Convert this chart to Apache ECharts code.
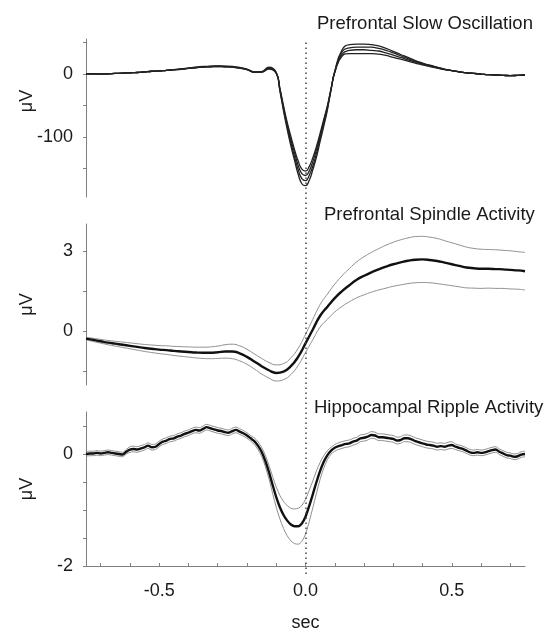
<!DOCTYPE html>
<html>
<head>
<meta charset="utf-8">
<title>Slow oscillation, spindle and ripple averages</title>
<script src="https://cdn.jsdelivr.net/npm/echarts@6/dist/echarts.min.js"></script>
<style>
html,body{margin:0;padding:0;background:#fff;}
#main{width:552px;height:633px;}
</style>
</head>
<body>
<div id="main"></div>
<script>
// time base of the slow oscillation traces (sec), denser around the trough
var soTime = [-0.75,-0.725,-0.7,-0.675,-0.65,-0.625,-0.6,-0.575,-0.55,-0.525,-0.5,-0.475,-0.45,-0.425,-0.4,-0.375,-0.35,-0.325,-0.3,-0.275,-0.25,-0.225,-0.2,-0.175,-0.15,-0.125,
  -0.1,-0.0875,-0.075,-0.0625,-0.05,-0.0375,-0.025,-0.0125,0,0.0125,0.025,0.0375,0.05,0.0625,0.075,0.0875,0.1,
  0.125,0.15,0.175,0.2,0.225,0.25,0.275,0.3,0.325,0.35,0.375,0.4,0.425,0.45,0.475,0.5,0.525,0.55,0.575,0.6,0.625,0.65,0.675,0.7,0.725,0.75];

// prefrontal slow oscillation, four traces (uV)
var soLine1 = [0,0,-0.5,0,0.5,1,1.5,2,3,4,4.5,5.5,6,7,8.5,9.5,10.5,11,11.5,11,10.5,9,6.5,
  2.5,2.5,7.5,1,
  -23,-51,-77,-99,-120,-138,-151,-154,-147,-133,-115,-94,-72,-50,-23,2,
  28,32,32,32,32,31,29,26,23,20,17,14,11.5,9,6.5,
  5,3,1.5,0.5,-0.5,-1.5,-2,-2.5,-3,-2.5,-2];
var soLine2 = [0,0,-0.5,0,0.5,1,1.5,2,3,4,4.5,5.5,6,7,8.5,9.5,10.5,11,11.5,11,10.5,9,6.5,
  2.5,2.5,8.5,1,
  -24,-54,-80,-104,-125,-145,-158,-161,-154,-139,-120,-98,-75,-52,-24,3,
  31,37,38,38,37,36,33,29.5,26,22,18.5,15,12,9.5,7,
  5,3,1.5,0.5,-0.5,-1.5,-2,-2.5,-3,-2.5,-2];
var soLine3 = [0,0,-0.5,0,0.5,1,1.5,2,3,4,4.5,5.5,6.5,7.5,9,10,11,11.5,12,11.5,11,9.5,7,
  2.5,3,9.5,1.5,
  -26,-56,-84,-109,-131,-152,-166,-169,-161,-146,-126,-102,-79,-54,-24,3,
  35,41,42,42,42,40,37,33,28.5,24,20,16,13,10,7,
  5,3,1.5,0.5,-0.5,-1.5,-2,-2.5,-3,-2.5,-2];
var soLine4 = [0,0,-0.5,0,0.5,1,1.5,2,3,4,4.5,5.5,6.5,7.5,9,10.5,11.5,12,12.5,12,11.5,10,7.5,
  3,3.5,10.5,2,
  -27,-59,-88,-114,-137,-159,-174,-177,-169,-152,-132,-107,-83,-57,-25,4,
  38,46,47,47,46,44,40,35.5,30.5,26,21,17,13.5,10.5,7.5,
  5,3,1.5,0.5,-0.5,-1.5,-2,-2.5,-3,-2.5,-2];

// prefrontal spindle activity (uV), mean and the two band edges
var spTime = [-0.75,-0.725,-0.7,-0.675,-0.65,-0.625,-0.6,-0.575,-0.55,-0.525,-0.5,-0.475,-0.45,-0.425,-0.4,-0.375,-0.35,-0.325,-0.3,-0.275,-0.25,-0.225,-0.2,-0.175,-0.15,-0.125,-0.1,-0.075,-0.05,-0.025,
  0,0.025,0.05,0.075,0.1,0.125,0.15,0.175,0.2,0.225,0.25,0.275,0.3,0.325,0.35,0.375,0.4,0.425,0.45,0.475,0.5,0.525,0.55,0.575,0.6,0.625,0.65,0.675,0.7,0.725,0.75];
var spMean = [-0.27,-0.32,-0.37,-0.42,-0.46,-0.5,-0.54,-0.58,-0.62,-0.65,-0.68,-0.7,-0.73,-0.75,-0.77,-0.79,-0.8,-0.8,-0.78,-0.75,-0.75,-0.82,-0.95,-1.12,-1.3,-1.45,-1.55,-1.5,-1.3,-0.95,
  -0.45,0.07,0.58,0.92,1.24,1.5,1.72,1.92,2.07,2.2,2.31,2.41,2.5,2.57,2.63,2.67,2.68,2.66,2.62,2.56,2.5,2.44,2.38,2.35,2.33,2.33,2.32,2.31,2.29,2.27,2.24];
var spUpper = [-0.22,-0.26,-0.3,-0.34,-0.37,-0.4,-0.43,-0.46,-0.49,-0.51,-0.53,-0.54,-0.56,-0.57,-0.58,-0.59,-0.59,-0.58,-0.55,-0.5,-0.48,-0.54,-0.67,-0.84,-1.01,-1.16,-1.25,-1.2,-0.99,-0.63,
  -0.11,0.45,1.0,1.39,1.76,2.07,2.34,2.59,2.78,2.94,3.08,3.21,3.32,3.41,3.48,3.53,3.54,3.51,3.46,3.38,3.3,3.22,3.14,3.09,3.06,3.05,3.04,3.02,3.0,2.97,2.94];
var spLower = [-0.32,-0.38,-0.44,-0.5,-0.55,-0.6,-0.65,-0.7,-0.75,-0.79,-0.83,-0.86,-0.9,-0.93,-0.96,-0.99,-1.01,-1.02,-1.01,-1.0,-1.02,-1.1,-1.23,-1.4,-1.59,-1.74,-1.85,-1.8,-1.61,-1.27,
  -0.79,-0.31,0.16,0.45,0.72,0.93,1.1,1.25,1.36,1.46,1.54,1.61,1.68,1.73,1.78,1.81,1.82,1.81,1.78,1.74,1.7,1.66,1.62,1.61,1.6,1.61,1.6,1.6,1.58,1.57,1.54];

// hippocampal ripple activity (uV)
var rpTime = [-0.75,-0.7375,-0.725,-0.7125,-0.7,-0.6875,-0.675,-0.6625,-0.65,-0.6375,-0.625,-0.6125,-0.6,-0.5875,-0.575,-0.5625,-0.55,-0.5375,-0.525,-0.5125,
  -0.5,-0.4875,-0.475,-0.4625,-0.45,-0.4375,-0.425,-0.4125,-0.4,-0.3875,-0.375,-0.3625,-0.35,-0.3375,-0.325,-0.3125,-0.3,-0.2875,-0.275,-0.2625,
  -0.25,-0.2375,-0.225,-0.2125,-0.2,-0.1875,-0.175,-0.1625,-0.15,-0.1375,-0.125,-0.1125,-0.1,-0.0875,-0.075,-0.0625,-0.05,-0.0375,-0.025,-0.0125,
  0,0.0125,0.025,0.0375,0.05,0.0625,0.075,0.0875,0.1,0.1125,0.125,0.1375,0.15,0.1625,0.175,0.1875,0.2,0.2125,0.225,0.2375,
  0.25,0.2625,0.275,0.2875,0.3,0.3125,0.325,0.3375,0.35,0.3625,0.375,0.3875,0.4,0.4125,0.425,0.4375,0.45,0.4625,0.475,0.4875,
  0.5,0.5125,0.525,0.5375,0.55,0.5625,0.575,0.5875,0.6,0.6125,0.625,0.6375,0.65,0.6625,0.675,0.6875,0.7,0.7125,0.725,0.7375,0.75];
var rpMean = [0,0.01,0.01,0.02,0.01,0.02,0.03,0.02,0.01,0,-0.01,0.04,0.08,0.09,0.08,0.1,0.12,0.15,0.12,0.13,
  0.18,0.22,0.24,0.27,0.28,0.31,0.33,0.36,0.38,0.41,0.43,0.42,0.45,0.48,0.46,0.44,0.42,0.41,0.39,0.38,
  0.41,0.43,0.4,0.37,0.33,0.28,0.23,0.15,0.04,-0.12,-0.32,-0.55,-0.77,-0.95,-1.09,-1.19,-1.26,-1.29,-1.29,-1.24,
  -1.12,-0.93,-0.72,-0.5,-0.3,-0.14,-0.02,0.06,0.11,0.14,0.16,0.18,0.19,0.22,0.24,0.28,0.29,0.31,0.34,0.33,
  0.3,0.3,0.29,0.28,0.27,0.24,0.25,0.28,0.28,0.26,0.23,0.21,0.19,0.17,0.16,0.15,0.13,0.14,0.13,0.15,
  0.16,0.13,0.11,0.09,0.06,0.03,0.02,0.03,0.02,0.03,0.05,0.07,0.08,0.04,0.01,-0.02,-0.03,-0.05,-0.04,-0.01,0];
var rpUpper = [0.04,0.05,0.05,0.06,0.05,0.06,0.07,0.06,0.05,0.04,0.03,0.08,0.13,0.14,0.13,0.15,0.17,0.2,0.17,0.18,
  0.23,0.27,0.29,0.32,0.33,0.36,0.38,0.41,0.43,0.46,0.48,0.47,0.5,0.53,0.51,0.49,0.47,0.46,0.44,0.43,
  0.46,0.48,0.45,0.42,0.38,0.33,0.29,0.22,0.12,-0.02,-0.2,-0.4,-0.59,-0.74,-0.85,-0.92,-0.97,-0.98,-0.97,-0.92,
  -0.81,-0.65,-0.48,-0.3,-0.15,-0.03,0.06,0.12,0.17,0.2,0.22,0.24,0.25,0.28,0.3,0.34,0.35,0.37,0.4,0.39,
  0.36,0.36,0.35,0.34,0.33,0.3,0.31,0.34,0.34,0.32,0.29,0.27,0.25,0.23,0.22,0.21,0.19,0.2,0.19,0.21,
  0.22,0.18,0.16,0.14,0.11,0.08,0.07,0.08,0.07,0.08,0.1,0.12,0.13,0.09,0.06,0.03,0.02,0,0.01,0.04,0.05];
var rpLower = [-0.04,-0.03,-0.03,-0.02,-0.03,-0.02,-0.01,-0.02,-0.03,-0.04,-0.05,0,0.03,0.04,0.03,0.05,0.07,0.1,0.07,0.08,
  0.13,0.17,0.19,0.22,0.23,0.26,0.28,0.31,0.33,0.36,0.38,0.37,0.4,0.43,0.41,0.39,0.37,0.36,0.34,0.33,
  0.36,0.38,0.35,0.32,0.28,0.23,0.17,0.08,-0.04,-0.22,-0.44,-0.7,-0.95,-1.16,-1.33,-1.46,-1.55,-1.6,-1.61,-1.56,
  -1.43,-1.21,-0.96,-0.7,-0.45,-0.25,-0.1,0,0.05,0.08,0.1,0.12,0.13,0.16,0.18,0.22,0.23,0.25,0.28,0.27,
  0.24,0.24,0.23,0.22,0.21,0.18,0.19,0.22,0.22,0.2,0.17,0.15,0.13,0.11,0.1,0.09,0.07,0.08,0.07,0.09,
  0.1,0.08,0.06,0.04,0.01,-0.02,-0.03,-0.02,-0.03,-0.02,0,0.02,0.03,-0.01,-0.04,-0.07,-0.08,-0.1,-0.09,-0.06,-0.05];

// ticks and labels
var xTicks = [-0.7,-0.6,-0.5,-0.4,-0.3,-0.2,-0.1,0,0.1,0.2,0.3,0.4,0.5,0.6,0.7];
var xLabels = [-0.5,0,0.5];
var soTicks = [-150,-100,-50,0,50], soLabels = [-100,0];
var spTicks = [-1.5,0,1.5,3], spLabels = [0,3];
var rpTicks = [-2,-1.5,-1,-0.5,0,0.5], rpLabels = [-2,0];
var panelTitles = ['Prefrontal Slow Oscillation','Prefrontal Spindle Activity','Hippocampal Ripple Activity'];

var chart = echarts.init(document.getElementById('main'), null, {renderer: 'canvas'})
  ,FONT = 'Liberation Sans, Arial, sans-serif'
  ,AXIS_COLOR = '#808080'
  ,TEXT_COLOR = '#1a1a1a'
  ,LEFT = 86, WIDTH = 439;

function pairs(t, v){
  return t.map(function(x, i){ return [x, v[i]]; });
}

function line(grid, t, v, color, width, smooth){
  return {
    type: 'line', xAxisIndex: grid, yAxisIndex: grid,
    data: pairs(t, v), showSymbol: false, smooth: smooth,
    lineStyle: {color: color, width: width}, silent: true
  };
}

function yAxis(grid, min, max, ticks, labels, name){
  return {
    type: 'value', gridIndex: grid, min: min, max: max,
    name: name, nameLocation: 'middle', nameRotate: 90, nameGap: 50, nameMoveOverlap: false,
    nameTextStyle: {fontSize: 18, color: TEXT_COLOR, fontFamily: FONT},
    axisLine: {show: true, onZero: false, lineStyle: {color: AXIS_COLOR}},
    axisTick: {show: true, length: 3, customValues: ticks, lineStyle: {color: AXIS_COLOR}},
    axisLabel: {customValues: labels, fontSize: 18, color: TEXT_COLOR, fontFamily: FONT, margin: 13},
    splitLine: {show: false}
  };
}

function hiddenX(grid){
  return {type: 'value', gridIndex: grid, min: -0.75, max: 0.75, show: false};
}

var titles = panelTitles.map(function(txt, i){
  return {
    text: txt, left: [317, 324, 314][i], top: [14, 205, 398][i], padding: 0,
    textStyle: {fontSize: 18.5, fontWeight: 'normal', color: TEXT_COLOR, fontFamily: FONT}
  };
});

var option = {
  backgroundColor: '#fff',
  animation: false,
  title: titles,
  //top panel unit label sits between the 0 and -100 labels
  graphic: [{
    type: 'text', x: 27, y: 101, rotation: Math.PI / 2, silent: true,
    style: {text: 'μV', fontSize: 18, fontFamily: FONT, fill: TEXT_COLOR, align: 'center', verticalAlign: 'middle'}
  }],
  grid: [
    {left: LEFT, width: WIDTH, top: 39, height: 158},
    {left: LEFT, width: WIDTH, top: 224, height: 161},
    {left: LEFT, width: WIDTH, top: 412, height: 162},
    {left: LEFT, width: WIDTH, top: 40, height: 534}
  ],
  xAxis: [
    hiddenX(0),
    hiddenX(1),
    {
      type: 'value', gridIndex: 2, min: -0.75, max: 0.75,
      name: 'sec', nameLocation: 'middle', nameGap: 48,
      nameTextStyle: {fontSize: 18, color: TEXT_COLOR, fontFamily: FONT},
      axisLine: {show: true, onZero: false, lineStyle: {color: AXIS_COLOR}},
      axisTick: {show: true, inside: true, length: 3, customValues: xTicks, lineStyle: {color: AXIS_COLOR}},
      axisLabel: {customValues: xLabels, fontSize: 18, color: TEXT_COLOR, fontFamily: FONT, margin: 16,
        formatter: function(v){ return v.toFixed(1); }},
      splitLine: {show: false}
    },
    hiddenX(3)
  ],
  yAxis: [
    yAxis(0, -195, 55, soTicks, soLabels, ''),
    yAxis(1, -2, 4, spTicks, spLabels, 'μV'),
    yAxis(2, -2, 0.75, rpTicks, rpLabels, 'μV'),
    {type: 'value', gridIndex: 3, min: 0, max: 1, show: false}
  ],
  series: [
    line(0, soTime, soLine1, '#222', 1.3, true),
    line(0, soTime, soLine2, '#222', 1.3, true),
    line(0, soTime, soLine3, '#222', 1.3, true),
    line(0, soTime, soLine4, '#222', 1.3, true),
    line(1, spTime, spUpper, '#8f8f8f', 1, true),
    line(1, spTime, spLower, '#8f8f8f', 1, true),
    line(1, spTime, spMean, '#111', 2.4, true),
    line(2, rpTime, rpUpper, '#8f8f8f', 1, 0.3),
    line(2, rpTime, rpLower, '#8f8f8f', 1, 0.3),
    line(2, rpTime, rpMean, '#111', 2.4, 0.3),
    //time zero marker across all panels
    {
      type: 'line', xAxisIndex: 3, yAxisIndex: 3, data: [], silent: true,
      markLine: {
        silent: true, symbol: 'none', label: {show: false},
        lineStyle: {color: '#444', width: 1.5, type: [1.5, 3.5]},
        data: [{xAxis: 0}]
      }
    }
  ]
};

chart.setOption(option);
</script>
</body>
</html>
